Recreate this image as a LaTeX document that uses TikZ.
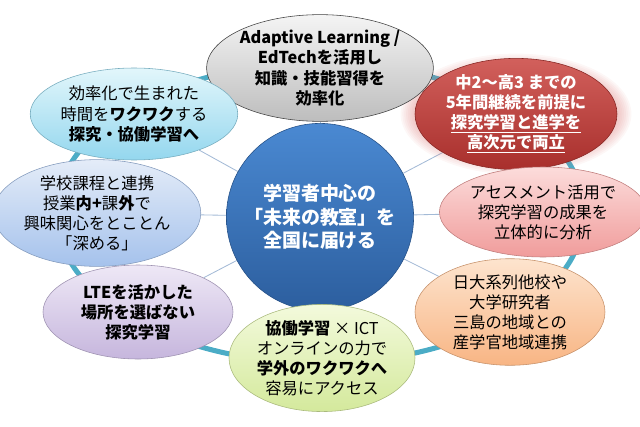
\documentclass[tikz,border=0pt]{standalone}
\usepackage{fontspec}
\setmainfont{Noto Sans CJK JP}
\usetikzlibrary{shapes.geometric,backgrounds}
\definecolor{RingTeal}{HTML}{4BACC6}
\definecolor{SpokeBlue}{HTML}{A3BAD6}
\definecolor{HubTop}{HTML}{4A89D2}
\definecolor{HubBottom}{HTML}{2C5E9E}
\definecolor{GlowRed}{HTML}{D9716E}
\definecolor{GreyTop}{HTML}{F4F4F4}
\definecolor{GreyBottom}{HTML}{BDBDBD}
\definecolor{RedTop}{HTML}{D2605C}
\definecolor{RedBottom}{HTML}{A82F2C}
\definecolor{PinkTop}{HTML}{FCDCDB}
\definecolor{PinkBottom}{HTML}{F09C9B}
\definecolor{OrangeTop}{HTML}{FDE4CE}
\definecolor{OrangeBottom}{HTML}{F8B584}
\definecolor{GreenTop}{HTML}{F3FADC}
\definecolor{GreenBottom}{HTML}{D4E99C}
\definecolor{PurpleTop}{HTML}{EEE8F6}
\definecolor{PurpleBottom}{HTML}{C6B6DD}
\definecolor{BlueTop}{HTML}{E4ECF8}
\definecolor{BlueBottom}{HTML}{A5C2EC}
\definecolor{CyanTop}{HTML}{E2F6FB}
\definecolor{CyanBottom}{HTML}{94D7EE}

\begin{document}
\begin{tikzpicture}[
    bubble/.style 2 args={ellipse, top color=#1, bottom color=#2, draw=#2!80!black,
        thin, inner sep=0pt, align=center, minimum width=4.75cm, minimum height=2.3cm,
        font=\fontsize{11.6}{14.3}\selectfont},
    heavy/.style={font=\fontsize{11.6}{14.3}\selectfont\bfseries},
    hub/.style={circle, top color=HubTop, bottom color=HubBottom, draw=HubBottom!85!black,
        thin, inner sep=0pt, minimum size=4.68cm, align=center, text=white,
        font=\fontsize{13.5}{16.7}\selectfont\bfseries},
    spoke/.style={SpokeBlue, line width=0.6pt}
]
    \useasboundingbox (-8,-5.325) rectangle (8,5.325);

    % Red glow
    \foreach \g in {1,...,8}
        \fill[GlowRed, opacity=0.06] (4.9,2.475) ellipse ({2.525+0.045*\g} and {1.15+0.045*\g});

    % Hub
    \node[hub] (hub) at (0,-0.1) {学習者中心の\\「未来の教室」を\\全国に届ける};

    % Outer bubbles
    \node[bubble={GreyTop}{GreyBottom}, draw=black!75, heavy] (edtech) at (0,3.625)
        {Adaptive Learning /\\EdTechを活用し\\知識・技能習得を\\効率化};
    \node[bubble={RedTop}{RedBottom}, minimum width=5.05cm, text=white, heavy] (sixyear) at (4.9,2.475)
        {中2～高3 までの\\5年間継続を前提に\\\underline{探究学習と進学を}\\\underline{高次元で両立}};
    \node[bubble={PinkTop}{PinkBottom}, minimum height=2.25cm] (assess) at (5.575,0.025)
        {アセスメント活用で\\探究学習の成果を\\立体的に分析};
    \node[bubble={OrangeTop}{OrangeBottom}, minimum height=2.35cm] (network) at (4.75,-2.475)
        {日大系列他校や\\大学研究者\\三島の地域との\\産学官地域連携};
    \node[bubble={GreenTop}{GreenBottom}, minimum width=4.65cm, minimum height=2.15cm] (online) at (0.05,-3.625)
        {\textbf{協働学習} × ICT\\オンラインの力で\\\textbf{学外のワクワクへ}\\容易にアクセス};
    \node[bubble={PurpleTop}{PurpleBottom}, minimum height=2.35cm, heavy] (lte) at (-4.55,-2.475)
        {LTEを活かした\\場所を選ばない\\探究学習};
    \node[bubble={BlueTop}{BlueBottom}, minimum height=2.35cm] (deepen) at (-5.575,0)
        {学校課程と連携\\授業\textbf{内+}課\textbf{外}で\\興味関心をとことん\\「深める」};
    \node[bubble={CyanTop}{CyanBottom}, minimum width=4.65cm] (wakuwaku) at (-4.65,2.475)
        {効率化で生まれた\\時間を\textbf{ワクワク}する\\\textbf{探究・協働学習へ}};

    % Ring and spokes
    \begin{scope}[on background layer]
        \draw[RingTeal, line width=3.6pt] (0,0) ellipse (6.6 and 3.75);
        \foreach \b in {edtech,sixyear,assess,network,online,lte,deepen,wakuwaku}
            \draw[spoke] (hub) -- (\b);
    \end{scope}
\end{tikzpicture}
\end{document}
